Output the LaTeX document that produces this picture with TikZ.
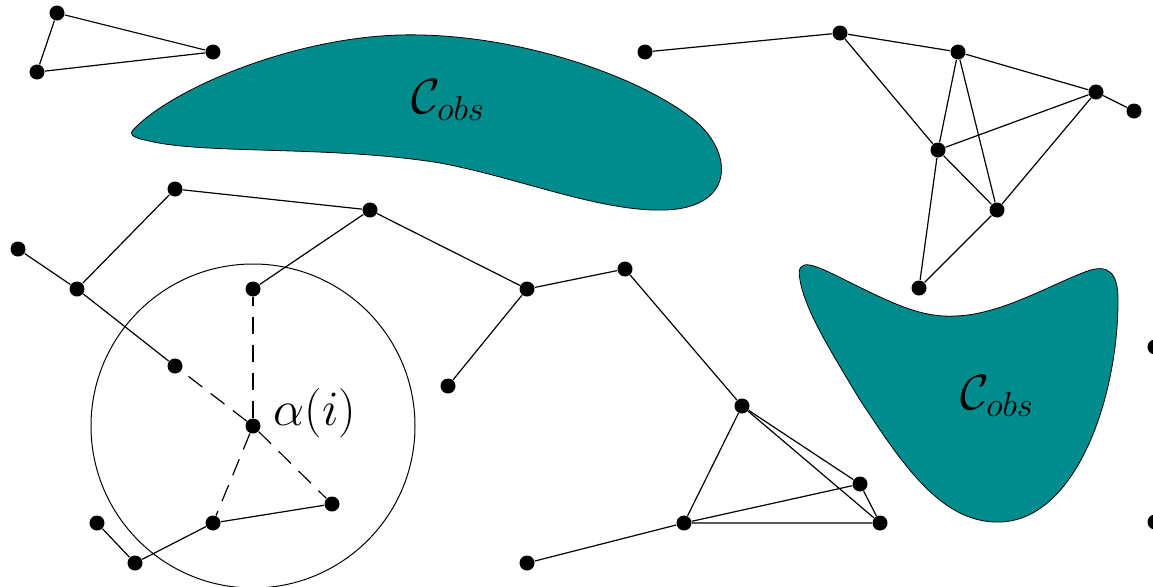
\documentclass[tikz,border=0pt]{standalone}
\usepackage{fix-cm}

\tikzset{every picture/.style={line width=0.75pt}}
\tikzset{
  vtx/.style={circle,fill=black,inner sep=0pt,minimum size=11.25pt},
  lnk/.style={line width=0.9pt},
  nbr/.style={line width=0.9pt,dash pattern={on 13pt off 8pt}},
  obs/.style={draw=black,line width=0.6pt,fill={rgb, 255:red, 0; green, 140; blue, 140}},
  bigmath/.style={font=\fontsize{37}{44}\selectfont,inner sep=0pt}
}

\begin{document}
\begin{tikzpicture}[x=0.75pt,y=0.75pt,yscale=-1,xscale=1]
\useasboundingbox (0,0) rectangle (1153,586);

%Shape: Obstacle (top)
\draw [obs] (133,130) .. controls (170,90) and (290,38) .. (400,35) .. controls (520,32) and (650,80) .. (700,125) .. controls (735,160) and (730,208) .. (665,210) .. controls (600,212) and (520,178) .. (440,163) .. controls (330,145) and (200,155) .. (145,140) .. controls (130,137) and (130,133) .. (133,130) -- cycle ;
%Shape: Obstacle (right)
\draw [obs] (800,280) .. controls (795,255) and (815,265) .. (845,280) .. controls (890,302) and (920,318) .. (955,316) .. controls (1000,315) and (1050,285) .. (1085,272) .. controls (1110,262) and (1118,275) .. (1118,300) .. controls (1118,400) and (1075,520) .. (1000,522) .. controls (940,524) and (900,460) .. (860,400) .. controls (830,350) and (805,310) .. (800,280) -- cycle ;

% Text Node
\node [bigmath] (cobsa) at (448,100) {$\mathcal{C}_{obs}$};
\node [bigmath] (cobsb) at (997,396) {$\mathcal{C}_{obs}$};

%Vertices: top left
\node [vtx] (a1) at (57,13) {};
\node [vtx] (a2) at (37,72) {};
\node [vtx] (a3) at (213,52) {};
%Vertices: top right
\node [vtx] (b1) at (645,52) {};
\node [vtx] (b2) at (840,33) {};
\node [vtx] (b3) at (958,52) {};
\node [vtx] (b4) at (1096,92) {};
\node [vtx] (b5) at (1134,111) {};
\node [vtx] (b6) at (938,150) {};
\node [vtx] (b7) at (997,210) {};
\node [vtx] (b8) at (919,288) {};
%Vertices: left and bottom
\node [vtx] (c1) at (18,249) {};
\node [vtx] (c2) at (77,289) {};
\node [vtx] (c3) at (175,189) {};
\node [vtx] (c4) at (370,210) {};
\node [vtx] (c5) at (253,289) {};
\node [vtx] (c6) at (175,366) {};
\node [vtx] (c7) at (253,426) {};
\node [vtx] (c8) at (332,504) {};
\node [vtx] (c9) at (213,523) {};
\node [vtx] (c10) at (97,523) {};
\node [vtx] (c11) at (135,563) {};
\node [vtx] (c12) at (527,289) {};
\node [vtx] (c13) at (625,269) {};
\node [vtx] (c14) at (448,386) {};
\node [vtx] (c15) at (742,406) {};
\node [vtx] (c16) at (860,484) {};
\node [vtx] (c17) at (880,523) {};
\node [vtx] (c18) at (684,523) {};
\node [vtx] (c19) at (527,563) {};
%Vertices: right border
\node [vtx] (d1) at (1155,347) {};
\node [vtx] (d2) at (1155,522) {};

%Shape: Circle
\draw (c7) circle (162) ;
% Text Node
\node [bigmath,anchor=west] (alpha) at (273,413) {$\alpha(i)$};

%Straight Lines
\draw [lnk] (a1) -- (a2) -- (a3) -- (a1) ;
\draw [lnk] (b1) -- (b2) -- (b3) -- (b4) -- (b5) ;
\draw [lnk] (b2) -- (b6) -- (b4) -- (b7) -- (b3) -- (b6) -- (b7) -- (b8) -- (b6) ;
\draw [lnk] (c1) -- (c2) -- (c3) -- (c4) -- (c12) -- (c13) -- (c15) -- (c16) -- (c17) -- (c18) -- (c19) ;
\draw [lnk] (c2) -- (c6) ;
\draw [lnk] (c4) -- (c5) ;
\draw [lnk] (c12) -- (c14) ;
\draw [lnk] (c15) -- (c17) ;
\draw [lnk] (c15) -- (c18) -- (c16) ;
\draw [lnk] (c10) -- (c11) -- (c9) -- (c8) ;
%Dashed Lines
\draw [nbr] (c7) -- (c5) ;
\draw [nbr] (c7) -- (c6) ;
\draw [nbr] (c7) -- (c8) ;
\draw [nbr] (c7) -- (c9) ;

\end{tikzpicture}
\end{document}
